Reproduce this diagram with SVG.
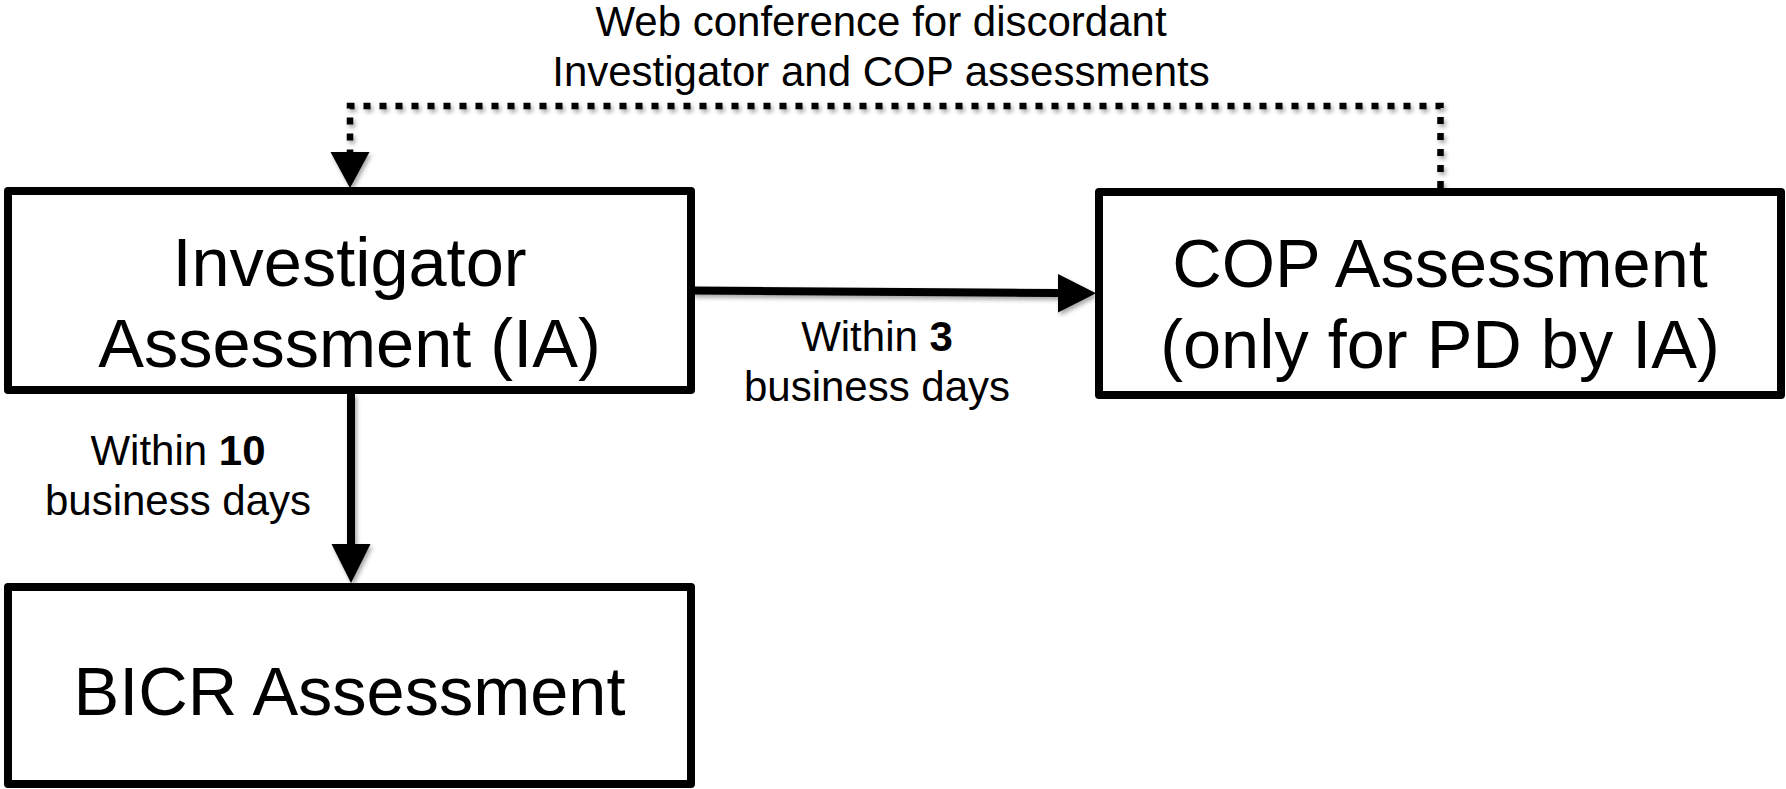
<svg xmlns="http://www.w3.org/2000/svg" width="1786" height="789" viewBox="0 0 1786 789">
  <style>
    .box { fill: #ffffff; stroke: #000000; stroke-width: 8; stroke-linejoin: round; }
    .node-text { font-family: "Liberation Sans", Arial, sans-serif; font-size: 68.5px; fill: #000000; text-anchor: middle; }
    .label { font-family: "Liberation Sans", Arial, sans-serif; font-size: 42px; fill: #000000; text-anchor: middle; }
    .solid { fill: none; stroke: #000000; stroke-width: 8; }
    .dotted { fill: none; stroke: #000000; stroke-width: 6.5; stroke-dasharray: 7 9; }
    .head { fill: #000000; stroke: none; }
  </style>
  <defs>
    <filter id="shadow" x="-5%" y="-20%" width="110%" height="140%">
      <feDropShadow dx="2" dy="3" stdDeviation="2" flood-color="#000000" flood-opacity="0.35"/>
    </filter>
  </defs>
  <rect width="1786" height="789" fill="#ffffff"/>

  <!-- connectors -->
  <g id="connectors" filter="url(#shadow)">
    <!-- review feedback loop from COP back to investigator -->
    <path class="dotted" d="M1440.5,188 V106 H350 V152"/>
    <polygon class="head" points="330.5,152 369.5,152 350,188"/>
    <!-- investigator to COP -->
    <line class="solid" x1="692" y1="290.5" x2="1060" y2="293"/>
    <polygon class="head" points="1058,274 1096,293.3 1058,312.6"/>
    <!-- investigator to BICR -->
    <line class="solid" x1="351" y1="394" x2="351" y2="546"/>
    <polygon class="head" points="331.5,544 370.5,544 351,583"/>
  </g>

  <!-- connector labels -->
  <g id="label-feedback">
    <text class="label" x="881" y="36">Web conference for discordant</text>
    <text class="label" x="881" y="86">Investigator and COP assessments</text>
  </g>
  <g id="label-cop">
    <text class="label" x="877" y="351">Within <tspan font-weight="bold">3</tspan></text>
    <text class="label" x="877" y="401">business days</text>
  </g>
  <g id="label-bicr">
    <text class="label" x="178" y="465">Within <tspan font-weight="bold">10</tspan></text>
    <text class="label" x="178" y="515">business days</text>
  </g>

  <!-- nodes -->
  <g id="node-investigator">
    <rect class="box" x="8" y="191" width="683" height="199"/>
    <text class="node-text" x="349.5" y="286">Investigator</text>
    <text class="node-text" x="349.5" y="367">Assessment (IA)</text>
  </g>
  <g id="node-cop">
    <rect class="box" x="1099" y="192" width="682" height="203"/>
    <text class="node-text" x="1440" y="287">COP Assessment</text>
    <text class="node-text" x="1440" y="368">(only for PD by IA)</text>
  </g>
  <g id="node-bicr">
    <rect class="box" x="8" y="587" width="683" height="197"/>
    <text class="node-text" x="349.5" y="715">BICR Assessment</text>
  </g>
</svg>
